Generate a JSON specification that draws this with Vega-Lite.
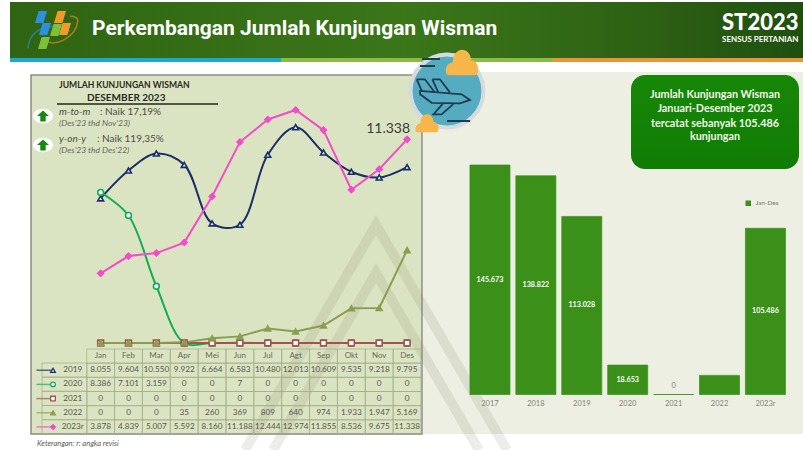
{
"$schema":"https://vega.github.io/schema/vega-lite/v6.json",
"width":803,"height":450,"padding":0,"autosize":{"type":"none"},"background":"#ffffff",
"config":{"view":{"stroke":null},"axis":{"disable":true},"text":{"font":"Lato"},"locale":{"number":{"decimal":",","thousands":".","grouping":[3],"currency":["",""]}}},
"data":{"values":[{"k":"decor"}]},
"datasets":{
"monthly":[
{"month":"Jan","series":"2019","value":8055},{"month":"Feb","series":"2019","value":9604},{"month":"Mar","series":"2019","value":10550},{"month":"Apr","series":"2019","value":9922},{"month":"Mei","series":"2019","value":6664},{"month":"Jun","series":"2019","value":6583},{"month":"Jul","series":"2019","value":10480},{"month":"Agt","series":"2019","value":12013},{"month":"Sep","series":"2019","value":10609},{"month":"Okt","series":"2019","value":9535},{"month":"Nov","series":"2019","value":9218},{"month":"Des","series":"2019","value":9795},
{"month":"Jan","series":"2020","value":8386},{"month":"Feb","series":"2020","value":7101},{"month":"Mar","series":"2020","value":3159},{"month":"Apr","series":"2020","value":0},{"month":"Mei","series":"2020","value":0},{"month":"Jun","series":"2020","value":7},{"month":"Jul","series":"2020","value":0},{"month":"Agt","series":"2020","value":0},{"month":"Sep","series":"2020","value":0},{"month":"Okt","series":"2020","value":0},{"month":"Nov","series":"2020","value":0},{"month":"Des","series":"2020","value":0},
{"month":"Jan","series":"2021","value":0},{"month":"Feb","series":"2021","value":0},{"month":"Mar","series":"2021","value":0},{"month":"Apr","series":"2021","value":0},{"month":"Mei","series":"2021","value":0},{"month":"Jun","series":"2021","value":0},{"month":"Jul","series":"2021","value":0},{"month":"Agt","series":"2021","value":0},{"month":"Sep","series":"2021","value":0},{"month":"Okt","series":"2021","value":0},{"month":"Nov","series":"2021","value":0},{"month":"Des","series":"2021","value":0},
{"month":"Jan","series":"2022","value":0},{"month":"Feb","series":"2022","value":0},{"month":"Mar","series":"2022","value":0},{"month":"Apr","series":"2022","value":35},{"month":"Mei","series":"2022","value":260},{"month":"Jun","series":"2022","value":369},{"month":"Jul","series":"2022","value":809},{"month":"Agt","series":"2022","value":640},{"month":"Sep","series":"2022","value":974},{"month":"Okt","series":"2022","value":1933},{"month":"Nov","series":"2022","value":1947},{"month":"Des","series":"2022","value":5169},
{"month":"Jan","series":"2023r","value":3878},{"month":"Feb","series":"2023r","value":4839},{"month":"Mar","series":"2023r","value":5007},{"month":"Apr","series":"2023r","value":5592},{"month":"Mei","series":"2023r","value":8160},{"month":"Jun","series":"2023r","value":11188},{"month":"Jul","series":"2023r","value":12444},{"month":"Agt","series":"2023r","value":12974},{"month":"Sep","series":"2023r","value":11855},{"month":"Okt","series":"2023r","value":8536},{"month":"Nov","series":"2023r","value":9675},{"month":"Des","series":"2023r","value":11338}
],
"months":[{"month":"Jan"},{"month":"Feb"},{"month":"Mar"},{"month":"Apr"},{"month":"Mei"},{"month":"Jun"},{"month":"Jul"},{"month":"Agt"},{"month":"Sep"},{"month":"Okt"},{"month":"Nov"},{"month":"Des"}],
"seriesList":[{"series":"2019"},{"series":"2020"},{"series":"2021"},{"series":"2022"},{"series":"2023r"}],
"annual":[{"year":"2017","value":145673,"s":"Jan-Des"},{"year":"2018","value":138822,"s":"Jan-Des"},{"year":"2019","value":113028,"s":"Jan-Des"},{"year":"2020","value":18653,"s":"Jan-Des"},{"year":"2021","value":0,"s":"Jan-Des"},{"year":"2022","value":12136,"s":"Jan-Des"},{"year":"2023r","value":105486,"s":"Jan-Des"}],
"watermark":[{"c":"a","o":1,"x":245,"y":450},{"c":"a","o":2,"x":376,"y":225},{"c":"a","o":3,"x":507,"y":450},{"c":"b","o":1,"x":273,"y":450},{"c":"b","o":2,"x":376,"y":273},{"c":"b","o":3,"x":479,"y":450}]
},
"resolve":{"scale":{"x":"independent","y":"independent","stroke":"independent","fill":"independent","shape":"independent","color":"independent"}},
"layer":[
{"layer":[
{"mark":{"type":"rect","fill":{"gradient":"linear","x1":0,"x2":1,"y1":0,"y2":0,"stops":[{"offset":0,"color":"#2f6412"},{"offset":0.5,"color":"#3b7619"},{"offset":0.8,"color":"#2d6113"},{"offset":1,"color":"#1f4f10"}]}},"encoding":{"x":{"datum":10,"scale":{"domain":[0,803],"range":[0,803],"nice":false}},"x2":{"datum":803},"y":{"datum":2,"scale":{"domain":[0,450],"range":[0,450],"nice":false}},"y2":{"datum":58}}},
{"mark":{"type":"rect","fill":"#19a8d8"},"encoding":{"x":{"datum":10},"x2":{"datum":281},"y":{"datum":58},"y2":{"datum":62}}},
{"mark":{"type":"rect","fill":"#8cbb45"},"encoding":{"x":{"datum":281},"x2":{"datum":553},"y":{"datum":58},"y2":{"datum":62}}},
{"mark":{"type":"rect","fill":"#ef9138"},"encoding":{"x":{"datum":553},"x2":{"datum":803},"y":{"datum":58},"y2":{"datum":62}}},
{"mark":{"type":"point","filled":false,"shape":"M-1,0.3 C-0.9,-0.7 0.2,-1 1,-0.5","stroke":"#1f8fc0","strokeWidth":1.5,"size":1800},"encoding":{"x":{"datum":49},"y":{"datum":42}}},
{"mark":{"type":"point","filled":false,"shape":"M-1,0.6 C-0.3,0.9 0.9,0.3 1,-0.7 C1,-0.9 0.8,-1 0.5,-1","stroke":"#d98a22","strokeWidth":1.5,"size":1000},"encoding":{"x":{"datum":62},"y":{"datum":32}}},
{"mark":{"type":"point","filled":true,"opacity":1,"shape":"M-1,1 L-0.4,-1 L1,-1 L0.4,1 Z","fill":"#2c8fe0","size":144},"encoding":{"x":{"datum":41},"y":{"datum":17}}},
{"mark":{"type":"point","filled":true,"opacity":1,"shape":"M-1,1 L-0.4,-1 L1,-1 L0.4,1 Z","fill":"#2c8fe0","size":144},"encoding":{"x":{"datum":45},"y":{"datum":29}}},
{"mark":{"type":"point","filled":true,"opacity":1,"shape":"M-1,1 L-0.4,-1 L1,-1 L0.4,1 Z","fill":"#f09a28","size":144},"encoding":{"x":{"datum":60},"y":{"datum":17}}},
{"mark":{"type":"point","filled":true,"opacity":1,"shape":"M-1,1 L-0.4,-1 L1,-1 L0.4,1 Z","fill":"#f09a28","size":144},"encoding":{"x":{"datum":65},"y":{"datum":29}}},
{"mark":{"type":"point","filled":true,"opacity":1,"shape":"M-1,1 L-0.4,-1 L1,-1 L0.4,1 Z","fill":"#7ec03c","size":144},"encoding":{"x":{"datum":56},"y":{"datum":30}}},
{"mark":{"type":"point","filled":true,"opacity":1,"shape":"M-1,1 L-0.4,-1 L1,-1 L0.4,1 Z","fill":"#7ec03c","size":144},"encoding":{"x":{"datum":44},"y":{"datum":43}}},
{"mark":{"type":"rect","fill":"#dbe4c2","stroke":"#8c8c84","strokeWidth":1.5},"encoding":{"x":{"datum":31},"x2":{"datum":422},"y":{"datum":75},"y2":{"datum":434}}},
{"mark":{"type":"rect","fill":"#ecefe1"},"encoding":{"x":{"datum":423},"x2":{"datum":803},"y":{"datum":72},"y2":{"datum":434}}},
{"data":{"name":"watermark"},"mark":{"type":"line","stroke":"#77775e","strokeWidth":10,"opacity":0.14,"strokeJoin":"miter","strokeCap":"butt"},"encoding":{"x":{"field":"x","type":"quantitative"},"y":{"field":"y","type":"quantitative"},"detail":{"field":"c"},"order":{"field":"o"}}},
{"mark":{"type":"rect","fill":{"gradient":"linear","x1":0,"x2":0,"y1":0,"y2":1,"stops":[{"offset":0,"color":"#178708"},{"offset":1,"color":"#107c04"}]},"cornerRadius":14},"encoding":{"x":{"datum":631},"x2":{"datum":799},"y":{"datum":75},"y2":{"datum":169}}},
{"mark":{"type":"rect","fill":"transparent","stroke":"#a3ad8a","strokeWidth":0.7},"encoding":{"x":{"datum":42},"x2":{"datum":87},"y":{"datum":363},"y2":{"datum":377.2}}},
{"mark":{"type":"rect","fill":"transparent","stroke":"#a3ad8a","strokeWidth":0.7},"encoding":{"x":{"datum":42},"x2":{"datum":87},"y":{"datum":377.2},"y2":{"datum":391.3}}},
{"mark":{"type":"rect","fill":"transparent","stroke":"#a3ad8a","strokeWidth":0.7},"encoding":{"x":{"datum":42},"x2":{"datum":87},"y":{"datum":391.3},"y2":{"datum":405.5}}},
{"mark":{"type":"rect","fill":"transparent","stroke":"#a3ad8a","strokeWidth":0.7},"encoding":{"x":{"datum":42},"x2":{"datum":87},"y":{"datum":405.5},"y2":{"datum":419.7}}},
{"mark":{"type":"rect","fill":"transparent","stroke":"#a3ad8a","strokeWidth":0.7},"encoding":{"x":{"datum":42},"x2":{"datum":87},"y":{"datum":419.7},"y2":{"datum":434}}}
]},
{"data":{"name":"monthly"},
"encoding":{
"x":{"field":"month","type":"nominal","scale":{"type":"band","domain":["c0","c1","Jan","Feb","Mar","Apr","Mei","Jun","Jul","Agt","Sep","Okt","Nov","Des"],"range":[31,421],"paddingInner":0,"paddingOuter":0}},
"y":{"field":"series","type":"nominal","scale":{"type":"band","domain":["m","2019","2020","2021","2022","2023r"],"range":[349,434],"paddingInner":0,"paddingOuter":0}}},
"layer":[
{"mark":{"type":"rect","fill":"transparent","stroke":"#a3ad8a","strokeWidth":0.7}},
{"data":{"name":"months"},"mark":{"type":"rect","fill":"transparent","stroke":"#a3ad8a","strokeWidth":0.7},"encoding":{"y":{"datum":"m"}}},
{"data":{"name":"months"},"mark":{"type":"text","fontSize":8,"fill":"#666659"},"encoding":{"y":{"datum":"m"},"text":{"field":"month"}}},
{"mark":{"type":"text","fontSize":8.2,"fill":"#57574c"},"encoding":{"text":{"field":"value","type":"quantitative","format":",d"}}},
{"data":{"name":"seriesList"},"mark":{"type":"text","fontSize":8.2,"fill":"#57574c"},"encoding":{"x":{"datum":"c1"},"text":{"field":"series"}}},
{"data":{"name":"seriesList"},"mark":{"type":"tick","orient":"horizontal","size":17,"thickness":1.5},"encoding":{"x":{"datum":"c0","bandPosition":0.79},"color":{"field":"series","type":"nominal","legend":null,"scale":{"domain":["2019","2020","2021","2022","2023r"],"range":["#1b2f66","#12ad55","#a8504e","#8b9e4f","#f24dc8"]}}}},
{"data":{"name":"seriesList"},"mark":{"type":"point","size":22,"strokeWidth":1.3,"opacity":1},"encoding":{"x":{"datum":"c0","bandPosition":0.79},
"stroke":{"field":"series","type":"nominal","legend":null,"scale":{"domain":["2019","2020","2021","2022","2023r"],"range":["#1b2f66","#12ad55","#a8504e","#8b9e4f","#f24dc8"]}},
"fill":{"field":"series","type":"nominal","legend":null,"scale":{"domain":["2019","2020","2021","2022","2023r"],"range":["#dce8f5","#ffffff","#ffffff","#8b9e4f","#f24dc8"]}},
"shape":{"field":"series","type":"nominal","legend":null,"scale":{"domain":["2019","2020","2021","2022","2023r"],"range":["triangle-up","circle","square","triangle-up","diamond"]}}}}
]},
{"data":{"name":"monthly"},
"encoding":{
"x":{"field":"month","type":"nominal","scale":{"type":"band","domain":["c0","c1","Jan","Feb","Mar","Apr","Mei","Jun","Jul","Agt","Sep","Okt","Nov","Des"],"range":[31,421],"paddingInner":0,"paddingOuter":0}},
"y":{"field":"value","type":"quantitative","scale":{"domain":[0,14922],"range":[343,75],"nice":false,"zero":false}}},
"layer":[
{"transform":[{"filter":"datum.series==='2019'||datum.series==='2020'"}],"mark":{"type":"line","interpolate":"catmull-rom","strokeWidth":2},"encoding":{"stroke":{"field":"series","type":"nominal","legend":null,"scale":{"domain":["2019","2020","2021","2022","2023r"],"range":["#1b2f66","#12ad55","#a8504e","#8b9e4f","#f24dc8"]}}}},
{"transform":[{"filter":"datum.series!=='2019'&&datum.series!=='2020'"}],"mark":{"type":"line","strokeWidth":2},"encoding":{"stroke":{"field":"series","type":"nominal","legend":null}}},
{"mark":{"type":"point","size":34,"strokeWidth":1.6,"opacity":1},"encoding":{
"stroke":{"field":"series","type":"nominal","legend":null},
"fill":{"field":"series","type":"nominal","legend":null,"scale":{"domain":["2019","2020","2021","2022","2023r"],"range":["#dce8f5","#ffffff","#ffffff","#8b9e4f","#f24dc8"]}},
"shape":{"field":"series","type":"nominal","legend":null,"scale":{"domain":["2019","2020","2021","2022","2023r"],"range":["triangle-up","circle","square","triangle-up","diamond"]}}}},
{"transform":[{"filter":"datum.series==='2023r'&&datum.month==='Des'"}],"mark":{"type":"text","fontSize":14,"fill":"#3c3c34","align":"right","dx":3,"dy":-10},"encoding":{"text":{"field":"value","type":"quantitative","format":",d"}}}
]},
{"data":{"name":"annual"},
"encoding":{
"x":{"field":"year","type":"nominal","title":null,"sort":null,"scale":{"type":"band","range":[467,788.4],"paddingInner":0.128,"paddingOuter":0.064},"axis":{"disable":false,"domain":false,"ticks":false,"grid":false,"labelAngle":0,"labelFont":"Lato","labelFontSize":7.5,"labelColor":"#85857a","labelPadding":5,"offset":-55.5,"zindex":1}},
"y":{"field":"value","type":"quantitative","scale":{"domain":[0,145673],"range":[394.5,165],"nice":false}}},
"layer":[
{"mark":{"type":"bar","stroke":"#3a9018","strokeWidth":0.7},"encoding":{"color":{"field":"s","type":"nominal","scale":{"domain":["Jan-Des"],"range":["#3a9018"]},"legend":{"orient":"none","legendX":745,"legendY":200,"title":null,"symbolType":"square","symbolSize":16,"labelFont":"Lato","labelFontSize":6.5,"labelColor":"#777770"}}}},
{"transform":[{"filter":"datum.value>0&&datum.year!=='2022'"}],"mark":{"type":"text","fontSize":7.2,"fontWeight":"bold","fill":"#ffffff"},"encoding":{"y":{"field":"value","type":"quantitative","stack":"zero","bandPosition":0.5},"text":{"field":"value","type":"quantitative","format":",d"}}},
{"transform":[{"filter":"datum.value===0"}],"mark":{"type":"text","fontSize":7.5,"fill":"#85857a","dy":-9},"encoding":{"text":{"field":"value","type":"quantitative"}}}
]},
{"layer":[
{"mark":{"type":"text","text":"Perkembangan Jumlah Kunjungan Wisman","font":"Roboto","fontWeight":"bold","fontSize":21,"fill":"#ffffff","align":"left"},"encoding":{"x":{"datum":92,"scale":{"domain":[0,803],"range":[0,803],"nice":false}},"y":{"datum":29,"scale":{"domain":[0,450],"range":[0,450],"nice":false}}}},
{"mark":{"type":"text","text":"ST2023","fontWeight":"900","fontSize":22,"fill":"#ffffff","align":"left"},"encoding":{"x":{"datum":722},"y":{"datum":23}}},
{"mark":{"type":"text","text":"SENSUS PERTANIAN","fontWeight":"bold","fontSize":8,"fill":"#ffffff","align":"left"},"encoding":{"x":{"datum":722},"y":{"datum":40}}},
{"mark":{"type":"point","shape":"circle","size":5300,"filled":true,"fill":"#55abc0","stroke":"#d4dade","strokeWidth":4,"opacity":1},"encoding":{"x":{"datum":447},"y":{"datum":91}}},
{"mark":{"type":"point","shape":"M-0.88,-0.18 L0.59,-0.06 L0.88,0.14 L0.53,0.26 L-0.47,0.24 L-0.88,-0.06 Z M-1,-0.59 L-0.71,-0.59 L-0.38,-0.15 M-1,-0.59 L-0.82,-0.18 M-0.45,-0.59 L-0.18,-0.59 L0.18,-0.12 M-0.45,-0.59 L-0.24,-0.14 M-0.06,0.25 L-0.41,0.65 L-0.12,0.65 L0.33,0.25","size":3200,"filled":false,"stroke":"#1f3c50","strokeWidth":1.8,"opacity":1},"encoding":{"x":{"datum":445},"y":{"datum":96}}},
{"mark":{"type":"rule","stroke":"#1f3c50","strokeWidth":2},"encoding":{"x":{"datum":422},"x2":{"datum":440},"y":{"datum":59}}},
{"mark":{"type":"rule","stroke":"#1f3c50","strokeWidth":2},"encoding":{"x":{"datum":420},"x2":{"datum":435},"y":{"datum":66}}},
{"mark":{"type":"rule","stroke":"#1f3c50","strokeWidth":2},"encoding":{"x":{"datum":447},"x2":{"datum":470},"y":{"datum":121}}},
{"mark":{"type":"point","shape":"M-0.85,0.85 C-1.15,0.85 -1.15,0.05 -0.6,0.05 C-0.6,-1 0.5,-1.1 0.6,-0.1 C1.15,-0.1 1.15,0.85 0.85,0.85 Z","size":961,"filled":true,"fill":"#f6b64a","opacity":1},"encoding":{"x":{"datum":462},"y":{"datum":62}}},
{"mark":{"type":"point","shape":"M-0.85,0.85 C-1.15,0.85 -1.15,0.05 -0.6,0.05 C-0.6,-1 0.5,-1.1 0.6,-0.1 C1.15,-0.1 1.15,0.85 0.85,0.85 Z","size":484,"filled":true,"fill":"#f6b64a","opacity":1},"encoding":{"x":{"datum":427},"y":{"datum":123}}},
{"mark":{"type":"text","text":"JUMLAH KUNJUNGAN WISMAN","fontWeight":"bold","fontSize":8.6,"fill":"#2a2a22","align":"left"},"encoding":{"x":{"datum":59},"y":{"datum":85}}},
{"mark":{"type":"text","text":"DESEMBER 2023","fontWeight":"bold","fontSize":10,"fill":"#2a2a22","align":"left"},"encoding":{"x":{"datum":87},"y":{"datum":98}}},
{"mark":{"type":"rule","stroke":"#22261a","strokeWidth":1.4},"encoding":{"x":{"datum":57},"x2":{"datum":218},"y":{"datum":104}}},
{"mark":{"type":"text","text":"m-to-m","fontStyle":"italic","fontSize":10,"fill":"#4d4d45","align":"left"},"encoding":{"x":{"datum":59},"y":{"datum":112}}},
{"mark":{"type":"text","text":": Naik 17,19%","fontSize":10,"fill":"#4d4d45","align":"left"},"encoding":{"x":{"datum":100},"y":{"datum":112}}},
{"mark":{"type":"text","text":"(Des'23 thd Nov'23)","fontStyle":"italic","fontSize":8.5,"fill":"#66665c","align":"left"},"encoding":{"x":{"datum":59},"y":{"datum":123}}},
{"mark":{"type":"text","text":"y-on-y","fontStyle":"italic","fontSize":10,"fill":"#4d4d45","align":"left"},"encoding":{"x":{"datum":59},"y":{"datum":139}}},
{"mark":{"type":"text","text":": Naik 119,35%","fontSize":10,"fill":"#4d4d45","align":"left"},"encoding":{"x":{"datum":97},"y":{"datum":139}}},
{"mark":{"type":"text","text":"(Des'23 thd Des'22)","fontStyle":"italic","fontSize":8.5,"fill":"#66665c","align":"left"},"encoding":{"x":{"datum":59},"y":{"datum":150}}},
{"mark":{"type":"point","shape":"M-1,0 A1,0.72 0 1,1 1,0 A1,0.72 0 1,1 -1,0 Z","size":400,"filled":true,"fill":"#ffffff","opacity":1},"encoding":{"x":{"datum":43},"y":{"datum":116}}},
{"mark":{"type":"point","shape":"M-1,0 A1,0.72 0 1,1 1,0 A1,0.72 0 1,1 -1,0 Z","size":400,"filled":true,"fill":"#ffffff","opacity":1},"encoding":{"x":{"datum":43},"y":{"datum":145}}},
{"mark":{"type":"point","shape":"M0,-0.9 L1,0 L0.45,0 L0.45,0.9 L-0.45,0.9 L-0.45,0 L-1,0 Z","size":144,"filled":true,"fill":"#148a10","opacity":1},"encoding":{"x":{"datum":43},"y":{"datum":116}}},
{"mark":{"type":"point","shape":"M0,-0.9 L1,0 L0.45,0 L0.45,0.9 L-0.45,0.9 L-0.45,0 L-1,0 Z","size":144,"filled":true,"fill":"#148a10","opacity":1},"encoding":{"x":{"datum":43},"y":{"datum":145}}},
{"mark":{"type":"text","text":"Jumlah Kunjungan Wisman","fontWeight":"bold","fontSize":10.8,"fill":"#f2f6e8"},"encoding":{"x":{"datum":715},"y":{"datum":95}}},
{"mark":{"type":"text","text":"Januari-Desember 2023","fontWeight":"bold","fontSize":10.8,"fill":"#f2f6e8"},"encoding":{"x":{"datum":715},"y":{"datum":109}}},
{"mark":{"type":"text","text":"tercatat sebanyak 105.486","fontWeight":"bold","fontSize":10.8,"fill":"#f2f6e8"},"encoding":{"x":{"datum":715},"y":{"datum":124}}},
{"mark":{"type":"text","text":"kunjungan","fontWeight":"bold","fontSize":10.8,"fill":"#f2f6e8"},"encoding":{"x":{"datum":715},"y":{"datum":137}}},
{"mark":{"type":"text","text":"Keterangan: r: angka revisi","fontStyle":"italic","fontSize":7.5,"fill":"#5c5c55","align":"left"},"encoding":{"x":{"datum":37},"y":{"datum":444}}}
]}
]}
